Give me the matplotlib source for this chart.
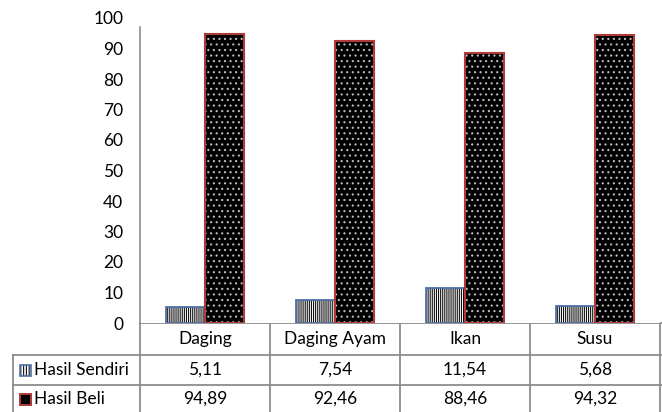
import numpy as np
import matplotlib
matplotlib.use("Agg")
import matplotlib.pyplot as plt
from matplotlib.patches import Rectangle

plt.rcParams['font.family'] = ['Lato', 'DejaVu Sans']
plt.rcParams['hatch.linewidth'] = 0.8

categories = ['Daging', 'Daging Ayam', 'Ikan', 'Susu']
series_names = ['Hasil Sendiri', 'Hasil Beli']
hasil_sendiri = [5.11, 7.54, 11.54, 5.68]
hasil_beli = [94.89, 92.46, 88.46, 94.32]
y_ticks = [0, 10, 20, 30, 40, 50, 60, 70, 80, 90, 100]

W, H = 662, 412
GRID = '#8c8c8c'
BLUE = '#4f6fa8'
RED = '#b03a3a'

fig = plt.figure(figsize=(W / 100, H / 100), dpi=100)

# chart area in pixel units
left, right, top, bottom = 140, 660, 18, 323
ax = fig.add_axes([left / W, 1 - bottom / H, (right - left) / W, (bottom - top) / H])
ax.set_xlim(0, len(categories))
ax.set_ylim(0, 100)
for s in ['top', 'right', 'bottom']:
    ax.spines[s].set_visible(False)
ax.spines['left'].set_color(GRID)
ax.spines['left'].set_linewidth(1.2)
ax.spines['left'].set_bounds(0, 97)
ax.set_xticks([])
ax.set_yticks(y_ticks)
ax.tick_params(axis='y', length=0, pad=12, labelsize=12.5)

x = np.arange(len(categories)) + 0.5
w = 0.30

# Hasil Sendiri: vertical stripes, blue outline
ax.bar(x - w / 2, hasil_sendiri, w, facecolor='white', edgecolor='#111111',
       hatch='||||||||', linewidth=0)
ax.bar(x - w / 2, hasil_sendiri, w, facecolor='none', edgecolor=BLUE, linewidth=1.3)

# Hasil Beli: black with small white dots, red outline
ax.bar(x + w / 2, hasil_beli, w, facecolor='black', edgecolor='#bbbbbb',
       hatch='...', linewidth=0)
ax.bar(x + w / 2, hasil_beli, w, facecolor='none', edgecolor=RED, linewidth=1.5)

# data table under the chart, drawn on a full-figure overlay
tab = fig.add_axes([0, 0, 1, 1], zorder=-1)
tab.set_xlim(0, W)
tab.set_ylim(H, 0)
tab.axis('off')

col_w = (right - left) / len(categories)
rows = [323, 355, 385, 415]
head_left = 13

tab.plot([left, W], [rows[0], rows[0]], color=GRID, lw=1.3)
for r in rows[1:]:
    tab.plot([head_left, W], [r, r], color=GRID, lw=1.3)
for i in range(len(categories) + 1):
    tab.plot([left + i * col_w] * 2, [rows[0], rows[-1]], color=GRID, lw=1.3)
tab.plot([head_left, head_left], [rows[1], rows[-1]], color=GRID, lw=1.3)

fs = 12.5
for i, c in enumerate(categories):
    cx = left + (i + 0.5) * col_w
    tab.text(cx, (rows[0] + rows[1]) / 2, c, ha='center', va='center', fontsize=fs)
    tab.text(cx, (rows[1] + rows[2]) / 2, f'{hasil_sendiri[i]:.2f}'.replace('.', ','),
             ha='center', va='center', fontsize=fs)
    tab.text(cx, (rows[2] + rows[3]) / 2 - 1, f'{hasil_beli[i]:.2f}'.replace('.', ','),
             ha='center', va='center', fontsize=fs)

# legend keys and row labels
for j, name in enumerate(series_names):
    cy = (rows[j + 1] + rows[j + 2]) / 2 - (1 if j else 0)
    if j == 0:
        tab.add_patch(Rectangle((20, cy - 5), 11, 11, facecolor='white',
                                edgecolor='#111111', hatch='||||||', lw=0))
        tab.add_patch(Rectangle((20, cy - 5), 11, 11, facecolor='none',
                                edgecolor=BLUE, lw=1.2))
    else:
        tab.add_patch(Rectangle((20, cy - 5), 11, 11, facecolor='black',
                                edgecolor=RED, lw=1.4))
    tab.text(34, cy, name, ha='left', va='center', fontsize=fs)

fig.savefig('out.png', dpi=100)
